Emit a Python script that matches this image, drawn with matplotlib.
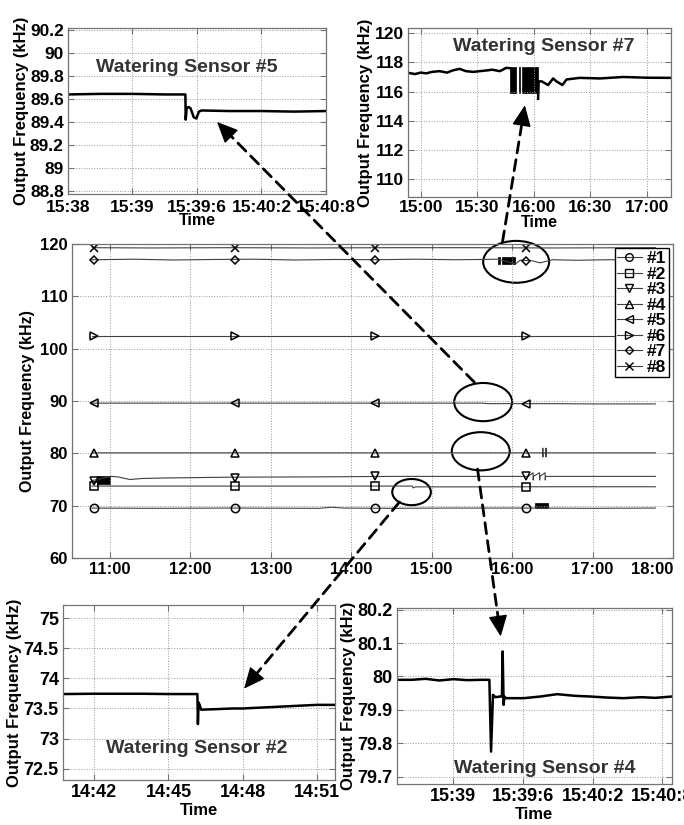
import numpy as np
import matplotlib.pyplot as plt
from matplotlib.lines import Line2D
from matplotlib.patches import Ellipse, ConnectionPatch
from matplotlib.ticker import FuncFormatter

plt.rcParams['font.family'] = ['Liberation Sans', 'DejaVu Sans']
plt.rcParams['font.weight'] = 'bold'
plt.rcParams['axes.labelweight'] = 'bold'

# ---------------- main panel (time in hours of day) ----------------
MAIN_XTICKS = [11, 12, 13, 14, 15, 16, 17, 18]
MAIN_XLABELS = ['11:00', '12:00', '13:00', '14:00', '15:00', '16:00', '17:00', '18:00']
MARK_T = [10.8, 12.55, 14.3, 16.17]

S1_T = [10.78, 11.5, 12.5, 13.6, 13.75, 13.9, 14.5, 15.2, 16.2, 17.0, 17.78]
S1_V = [69.55, 69.5, 69.55, 69.5, 69.7, 69.55, 69.5, 69.55, 69.55, 69.5, 69.55]
S1_MARK = [69.5, 69.5, 69.5, 69.6]
S1_BLOCK_T = [16.28, 16.44]
S1_BLOCK = [69.55, 70.5]

S2_T = [10.78, 12.0, 13.0, 14.0, 14.76, 14.77, 14.8, 15.5, 16.5, 17.78]
S2_V = [73.75, 73.75, 73.75, 73.75, 73.75, 73.4, 73.6, 73.6, 73.62, 73.62]
S2_MARK = [73.75, 73.75, 73.75, 73.6]

S3_T = [10.78, 10.84, 11.02, 11.1, 11.25, 11.4, 11.7, 12.5, 13.5, 14.5, 15.5, 16.2,
        16.26, 16.262, 16.265, 16.34, 16.342, 16.345, 16.41, 16.412, 16.415, 17.0, 17.78]
S3_V = [74.8, 75.0, 75.6, 75.5, 75.0, 75.2, 75.3, 75.45, 75.5, 75.6, 75.6, 75.6,
        76.3, 74.9, 75.6, 76.3, 74.9, 75.6, 76.3, 74.9, 75.6, 75.6, 75.6]
S3_MARK = [74.8, 75.3, 75.6, 75.6]
S3_BLOCK_T = [10.84, 11.0]
S3_BLOCK = [74.2, 75.6]

S4_T = [10.78, 12.0, 13.0, 14.0, 15.0, 16.0, 16.38, 16.381, 16.382, 16.383, 16.42, 16.421,
        16.422, 16.423, 17.0, 17.78]
S4_V = [80.1, 80.1, 80.1, 80.1, 80.1, 80.1, 80.1, 81.0, 79.3, 80.1, 80.1, 81.0, 79.3, 80.1,
        80.1, 80.1]
S4_MARK = [80.1, 80.1, 80.1, 80.1]

S5_T = [10.78, 12.0, 13.0, 14.0, 15.0, 15.63, 15.7, 16.5, 17.0, 17.78]
S5_V = [89.6, 89.6, 89.6, 89.6, 89.6, 89.6, 89.5, 89.5, 89.45, 89.45]
S5_MARK = [89.6, 89.6, 89.6, 89.5]

S6_T = [10.78, 12.0, 13.0, 14.0, 15.0, 16.0, 17.0, 17.78]
S6_V = [102.5, 102.5, 102.5, 102.5, 102.5, 102.5, 102.5, 102.5]
S6_MARK = [102.5, 102.5, 102.5, 102.5]

S7_T = [10.78, 11.3, 11.8, 12.3, 12.8, 13.3, 13.8, 14.3, 14.8, 15.3, 15.6, 15.82,
        16.04, 16.1, 16.25, 16.35, 16.5, 16.8, 17.2, 17.78]
S7_V = [117.0, 117.1, 116.95, 117.05, 117.1, 116.95, 117.05, 117.0, 117.1, 117.0, 117.05, 117.1,
        116.2, 116.9, 116.8, 116.4, 117.0, 116.9, 117.0, 116.95]
S7_MARK = [117.0, 117.0, 117.0, 116.8]
S7_BLOCK_T0 = [15.82, 15.88]
S7_BLOCK_T1 = [15.85, 16.03]
S7_BLOCK = [116.1, 117.6]

S8_T = [10.78, 11.5, 12.5, 13.5, 14.5, 15.5, 16.5, 17.78]
S8_V = [119.3, 119.25, 119.3, 119.25, 119.3, 119.3, 119.25, 119.3]
S8_MARK = [119.3, 119.3, 119.3, 119.3]

# ---------------- inset data ----------------
TL_X = [0, 0.5, 1.0, 1.5, 1.82, 1.825, 1.84, 1.87, 1.9, 1.95, 1.99, 2.03, 2.07, 2.5, 3.0, 3.5, 4.0]
TL_V = [89.64, 89.645, 89.645, 89.64, 89.64, 89.42, 89.52, 89.53, 89.52, 89.44, 89.43, 89.49,
        89.50, 89.495, 89.495, 89.49, 89.495]
TL_XLABELS = ['15:38', '15:39', '15:39:6', '15:40:2', '15:40:8']

TR_T = [-6.7, -3, 0, 3, 6, 10.1, 14, 17, 20.7, 24, 28, 31.3, 35, 38, 42, 45.5, 47.3]
TR_V = [117.29, 117.2, 117.3, 117.25, 117.35, 117.4, 117.3, 117.45, 117.56, 117.4, 117.35,
        117.4, 117.45, 117.5, 117.4, 117.63, 117.6]
TR_BLOCK_T0 = [47.3, 52.0, 54.0]
TR_BLOCK_T1 = [50.8, 52.8, 62.3]
TR_BLOCK = [115.9, 117.7]
TR_T2 = [62.3, 62.6, 64.2, 67.6, 70.3, 72.0, 75.2, 77.4, 84.4, 95.0, 107.5, 120.0, 132.8]
TR_V2 = [115.5, 116.7, 116.7, 116.45, 116.9, 116.7, 116.45, 116.83, 116.94, 116.9, 117.0, 116.95, 116.94]
TR_XTICKS = [0, 30, 60, 90, 120]
TR_XLABELS = ['15:00', '15:30', '16:00', '16:30', '17:00']

BL_T = [40.73, 42, 43, 44, 45, 46.17, 46.19, 46.22, 46.27, 46.32, 47, 47.6, 48, 49, 50, 51, 51.74]
BL_V = [73.74, 73.745, 73.745, 73.745, 73.74, 73.74, 73.24, 73.6, 73.55, 73.48, 73.49, 73.5,
        73.5, 73.52, 73.54, 73.56, 73.56]
BL_XTICKS = [42, 45, 48, 51]
BL_XLABELS = ['14:42', '14:45', '14:48', '14:51']

BR_X = [0.19, 0.4, 0.6, 0.8, 1.0, 1.2, 1.4, 1.517, 1.541, 1.569, 1.603, 1.674, 1.698, 1.708,
        1.722, 1.732, 1.756, 2.01, 2.25, 2.49, 2.75, 2.97, 3.2, 3.44, 3.7, 3.9, 4.14]
BR_V = [79.99, 79.99, 79.993, 79.988, 79.992, 79.989, 79.99, 79.99, 79.775, 79.945, 79.938,
        79.94, 79.94, 80.075, 79.915, 79.94, 79.935, 79.935, 79.94, 79.947, 79.942, 79.94,
        79.937, 79.935, 79.938, 79.936, 79.94]
BR_XTICKS = [1, 2, 3, 4]
BR_XLABELS = ['15:39', '15:39:6', '15:40:2', '15:40:8']

fmt = FuncFormatter(lambda v, p: '{:g}'.format(round(v, 3)))


def style(ax, size):
    for s in ax.spines.values():
        s.set_color('0.45')
        s.set_linewidth(0.9)
    ax.tick_params(direction='in', length=4, color='0.45', labelsize=size,
                   top=True, right=True, pad=3)
    ax.grid(True, ls=':', color='0.6', lw=0.7)
    ax.yaxis.set_major_formatter(fmt)


fig = plt.figure(figsize=(6.84, 8.25), dpi=100)

# ---- top-left inset: sensor #5 ----
ax1 = fig.add_axes([0.0994, 0.7648, 0.3772, 0.2012])
ax1.plot(TL_X, TL_V, color='k', lw=1.8)
ax1.set_xlim(0, 4)
ax1.set_ylim(88.77, 90.22)
ax1.set_yticks([88.8, 89, 89.2, 89.4, 89.6, 89.8, 90, 90.2])
ax1.set_xticks(range(5))
ax1.set_xticklabels(TL_XLABELS)
style(ax1, 12.5)
ax1.tick_params(axis='x', pad=4)
ax1.set_ylabel('Output Frequency (kHz)', fontsize=12, labelpad=1)
ax1.set_xlabel('Time', fontsize=11.5, labelpad=-1)
ax1.text(0.46, 0.765, 'Watering Sensor #5', transform=ax1.transAxes, ha='center',
         va='center', fontsize=14, color='0.2')

# ---- top-right inset: sensor #7 ----
ax2 = fig.add_axes([0.5965, 0.7612, 0.3845, 0.2048])
ax2.plot(TR_T, TR_V, color='k', lw=1.8)
for a, b in zip(TR_BLOCK_T0, TR_BLOCK_T1):
    ax2.fill_between([a, b], TR_BLOCK[0], TR_BLOCK[1], color='k', lw=0.5)
ax2.plot(TR_T2, TR_V2, color='k', lw=1.8)
ax2.set_xlim(-6.7, 132.8)
ax2.set_ylim(108.76, 120.36)
ax2.set_yticks([110, 112, 114, 116, 118, 120])
ax2.set_xticks(TR_XTICKS)
ax2.set_xticklabels(TR_XLABELS)
style(ax2, 12.5)
ax2.tick_params(axis='x', pad=2)
ax2.set_ylabel('Output Frequency (kHz)', fontsize=12, labelpad=1)
ax2.set_xlabel('Time', fontsize=11.5, labelpad=0)
ax2.text(0.517, 0.888, 'Watering Sensor #7', transform=ax2.transAxes, ha='center',
         va='center', fontsize=14, color='0.2')

# ---- main panel ----
ax = fig.add_axes([0.1053, 0.3236, 0.8787, 0.3806])
series = [
    (S1_T, S1_V, S1_MARK, 'o', '#1'),
    (S2_T, S2_V, S2_MARK, 's', '#2'),
    (S3_T, S3_V, S3_MARK, 'v', '#3'),
    (S4_T, S4_V, S4_MARK, '^', '#4'),
    (S5_T, S5_V, S5_MARK, '<', '#5'),
    (S6_T, S6_V, S6_MARK, '>', '#6'),
    (S7_T, S7_V, S7_MARK, 'D', '#7'),
    (S8_T, S8_V, S8_MARK, 'x', '#8'),
]
handles = []
for t, v, mk, m, lab in series:
    ax.plot(t, v, color='0.25', lw=0.8)
    ms = 4.5 if m == 'D' else 6
    ax.plot(MARK_T, mk, ls='none', marker=m, ms=ms, mfc='none', mec='k', mew=1.1)
    handles.append(Line2D([], [], color='0.25', lw=0.8, marker=m, ms=ms - 0.5, mfc='none',
                          mec='k', mew=1.0, label=lab))
ax.fill_between(S1_BLOCK_T, S1_BLOCK[0], S1_BLOCK[1], color='k', lw=0.5)
ax.fill_between(S3_BLOCK_T, S3_BLOCK[0], S3_BLOCK[1], color='k', lw=0.5)
for a, b in zip(S7_BLOCK_T0, S7_BLOCK_T1):
    ax.fill_between([a, b], S7_BLOCK[0], S7_BLOCK[1], color='k', lw=0.5)
ax.set_xlim(10.53, 18.0)
ax.set_ylim(60, 120)
ax.set_xticks(MAIN_XTICKS)
ax.set_xticklabels(MAIN_XLABELS)
ax.get_xticklabels()[-1].set_ha('right')
ax.set_yticks([60, 70, 80, 90, 100, 110, 120])
style(ax, 12)
ax.set_ylabel('Output Frequency (kHz)', fontsize=11.5, labelpad=4)
leg = ax.legend(handles=handles, loc='upper right', fontsize=12.5, fancybox=False,
                edgecolor='k', framealpha=1, borderpad=0.15, labelspacing=0.02,
                handlelength=1.4, handletextpad=0.3, borderaxespad=0.25)
leg.get_frame().set_linewidth(1.0)

# highlight ellipses on the main panel
ELL = [(16.05, 116.6, 0.82, 8.0), (15.64, 89.8, 0.72, 7.3),
       (15.61, 80.4, 0.72, 7.3), (14.75, 72.6, 0.48, 5.0)]
for cx, cy, w, h in ELL:
    ax.add_patch(Ellipse((cx, cy), w, h, fill=False, ec='k', lw=1.5, clip_on=False))

# ---- bottom-left inset: sensor #2 ----
ax3 = fig.add_axes([0.0921, 0.0545, 0.3977, 0.2121])
ax3.plot(BL_T, BL_V, color='k', lw=1.8)
ax3.set_xlim(40.73, 51.74)
ax3.set_ylim(72.31, 75.22)
ax3.set_yticks([72.5, 73, 73.5, 74, 74.5, 75])
ax3.set_xticks(BL_XTICKS)
ax3.set_xticklabels(BL_XLABELS)
style(ax3, 13)
ax3.set_ylabel('Output Frequency (kHz)', fontsize=12, labelpad=1)
ax3.set_xlabel('Time', fontsize=12, labelpad=1)
ax3.text(0.49, 0.18, 'Watering Sensor #2', transform=ax3.transAxes, ha='center',
         va='center', fontsize=14, color='0.2')

# ---- bottom-right inset: sensor #4 ----
ax4 = fig.add_axes([0.5804, 0.0497, 0.4020, 0.2133])
ax4.plot(BR_X, BR_V, color='k', lw=1.8)
ax4.set_xlim(0.19, 4.14)
ax4.set_ylim(79.678, 80.205)
ax4.set_yticks([79.7, 79.8, 79.9, 80, 80.1, 80.2])
ax4.set_xticks(BR_XTICKS)
ax4.set_xticklabels(BR_XLABELS)
style(ax4, 13)
ax4.set_ylabel('Output Frequency (kHz)', fontsize=12, labelpad=1)
ax4.set_xlabel('Time', fontsize=12, labelpad=1)
ax4.text(0.538, 0.09, 'Watering Sensor #4', transform=ax4.transAxes, ha='center',
         va='center', fontsize=14, color='0.2')

# ---- dashed arrows from ellipses to the zoomed insets ----
arrows = [
    ((15.53, 93.6), ax1, (2.31, 89.40)),
    ((15.88, 120.4), ax2, (55.3, 115.06)),
    ((15.57, 77.0), ax4, (1.68, 80.12)),
    ((14.6, 70.7), ax3, (48.06, 73.83)),
]
head_len = 18
for start, target, tip in arrows:
    pa = ax.transData.transform(start)
    pb = target.transData.transform(tip)
    u = (pa - pb) / np.hypot(*(pa - pb))
    ph = pb + u * head_len
    line = ConnectionPatch(xyA=start, coordsA=ax.transData, xyB=tuple(ph + u * 2),
                           coordsB='figure pixels', arrowstyle='-', color='k', lw=2.0,
                           linestyle=(0, (4, 2.5)))
    fig.add_artist(line)
    head = ConnectionPatch(xyA=tuple(ph), coordsA='figure pixels', xyB=tip,
                           coordsB=target.transData,
                           arrowstyle='-|>,head_length=0.6,head_width=0.27',
                           mutation_scale=22, color='k', lw=1.0)
    fig.add_artist(head)

fig.savefig('out.png', dpi=100)
